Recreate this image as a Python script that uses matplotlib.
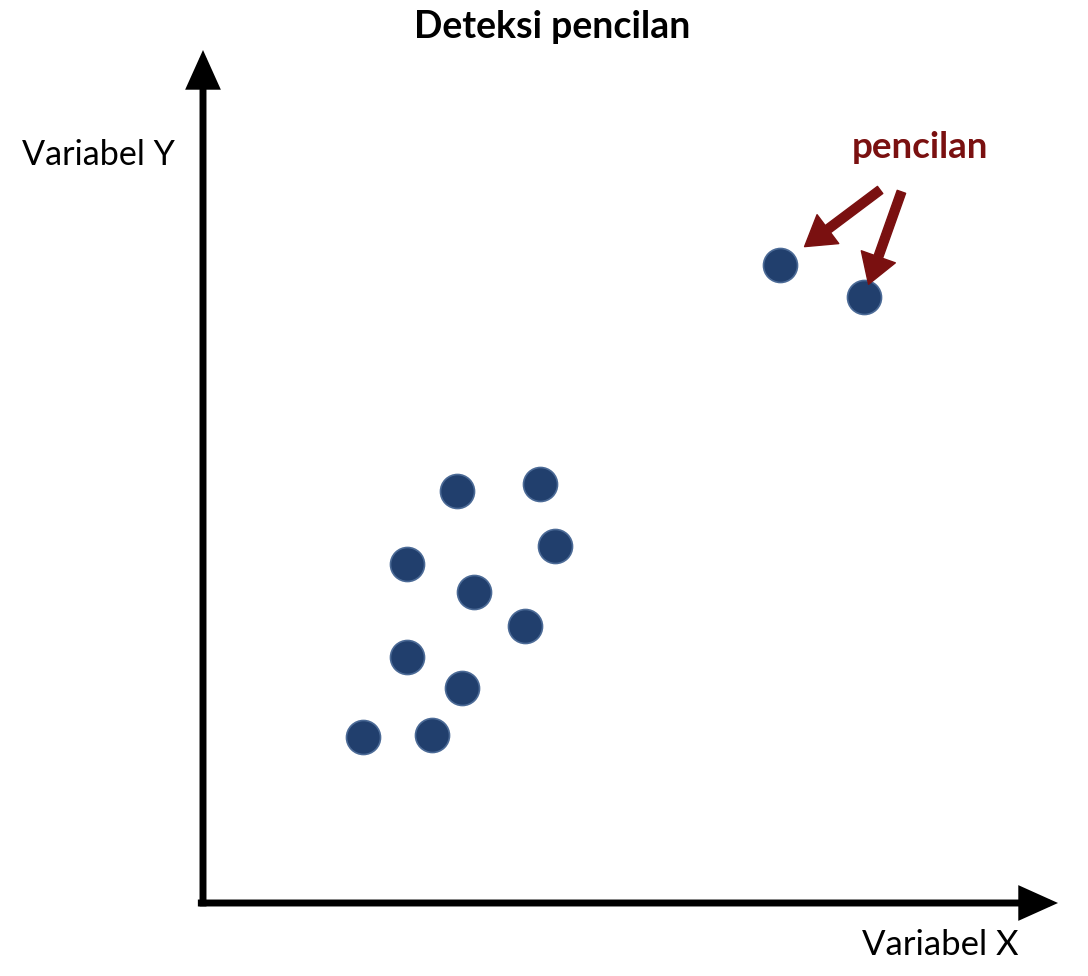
import matplotlib
matplotlib.use("Agg")
import matplotlib.pyplot as plt

# Data (abstract units)
cluster_x = [1.87, 2.68, 2.39, 3.03, 2.39, 3.17, 3.77, 2.97, 3.94, 4.12]
cluster_y = [1.95, 1.97, 2.88, 2.52, 3.97, 3.65, 3.25, 4.83, 4.91, 4.19]
outlier_x = [6.75, 7.73]
outlier_y = [7.48, 7.10]

title = "Deteksi pencilan"
xlabel = "Variabel X"
ylabel = "Variabel Y"
annot = "pencilan"

W, H = 1088, 976
fig = plt.figure(figsize=(W / 100, H / 100), dpi=100)
fig.patch.set_facecolor("white")

x0, y0, x1, y1 = 203, 903, 1058, 50
ax = fig.add_axes([x0 / W, 1 - y0 / H, (x1 - x0) / W, (y0 - y1) / H])
ax.set_xlim(0, 10)
ax.set_ylim(0, 10)
ax.axis("off")

font = "Lato"
dot_fc = "#213f6d"
dot_ec = "#4b6a96"

ax.scatter(cluster_x, cluster_y, s=600, c=dot_fc, edgecolors=dot_ec, linewidths=1.2, zorder=3)
ax.scatter(outlier_x, outlier_y, s=600, c=dot_fc, edgecolors=dot_ec, linewidths=1.2, zorder=3)

# Axes arrows
axis_style = "-|>,head_length=1.0,head_width=0.45"
ax.annotate("", xy=(0, 1), xytext=(0, -0.004), xycoords="axes fraction",
            arrowprops=dict(arrowstyle=axis_style, lw=5, color="black",
                            mutation_scale=20, shrinkA=0, shrinkB=0,
                            joinstyle="miter", capstyle="butt"))
ax.annotate("", xy=(1, 0), xytext=(-0.006, 0), xycoords="axes fraction",
            arrowprops=dict(arrowstyle=axis_style, lw=5, color="black",
                            mutation_scale=20, shrinkA=0, shrinkB=0,
                            joinstyle="miter", capstyle="butt"))

# Outlier arrows
arr_col = "#7a1010"
offsets = [(72, 54), (27, 76)]
shrinks = [22, 10]
for xo, yo, off, sh in zip(outlier_x, outlier_y, offsets, shrinks):
    ax.annotate("", xy=(xo, yo), xytext=off, textcoords="offset points",
                arrowprops=dict(arrowstyle="simple,head_length=1.05,head_width=1.3,tail_width=0.32",
                                mutation_scale=20, color=arr_col, shrinkA=0, shrinkB=sh))

fig.text(552 / W, 1 - 27 / H, title, ha="center", va="center", fontsize=27,
         fontweight="bold", family=font, color="black")
fig.text(920 / W, 1 - 148 / H, annot, ha="center", va="center", fontsize=26.5,
         fontweight="bold", family=font, color=arr_col)
fig.text(22 / W, 1 - 155 / H, ylabel, ha="left", va="center", fontsize=24.6,
         family=font, color="black")
fig.text(1018 / W, 1 - 945 / H, xlabel, ha="right", va="center", fontsize=25,
         family=font, color="black")

fig.savefig("out.png", dpi=100, facecolor="white")
